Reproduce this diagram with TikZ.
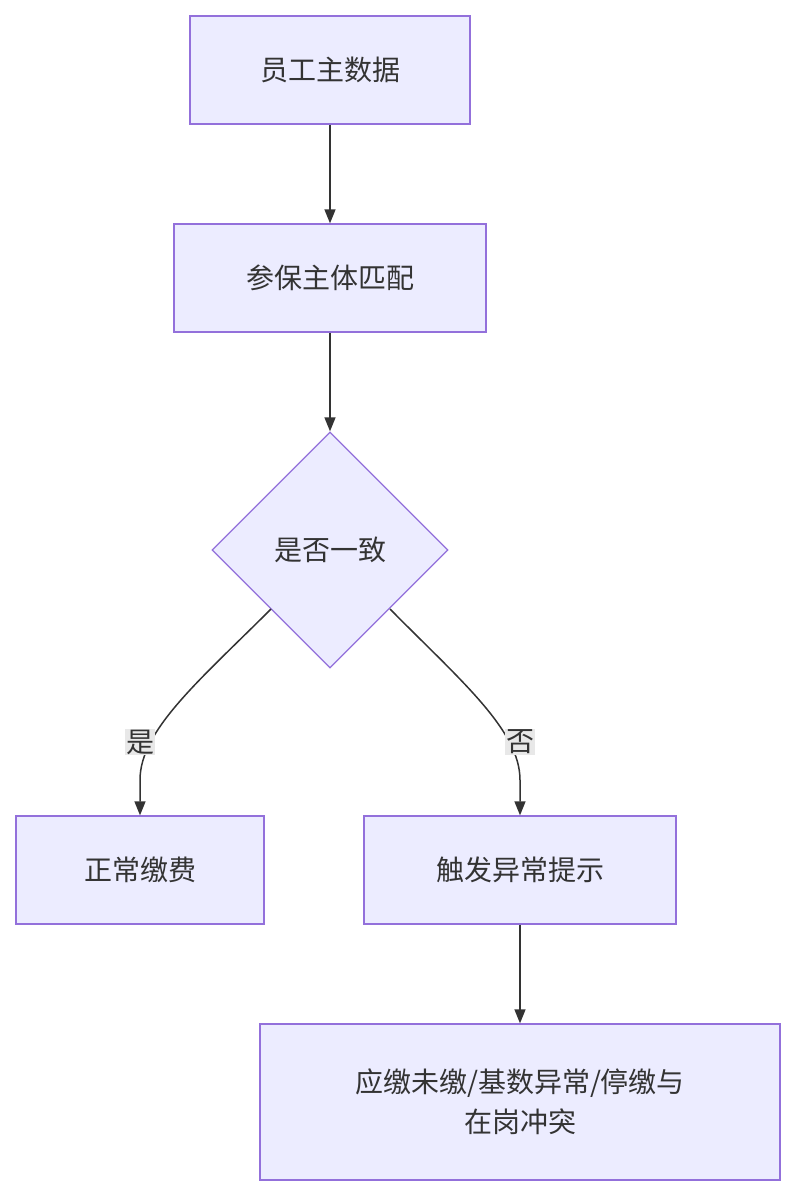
\documentclass[tikz,border=0pt]{standalone}
\usepackage{fontspec}
\setmainfont{Noto Sans CJK SC}
\usetikzlibrary{shapes.geometric,arrows.meta}
\definecolor{nfill}{HTML}{ECECFF}
\definecolor{nline}{HTML}{9370DB}
\definecolor{ntext}{HTML}{333333}
\definecolor{lbg}{HTML}{E8E8E8}
\begin{document}
\begin{tikzpicture}[x=1pt,y=-1pt,
  box/.style={draw=nline,fill=nfill,line width=1.3pt,text=ntext,font=\fontsize{28}{40}\selectfont,inner sep=0pt,align=center},
  edge/.style={draw=ntext,line width=1.5pt,-{Triangle[length=14pt,width=11pt]}},
  lbl/.style={fill=lbg,text=ntext,font=\fontsize{28}{34}\selectfont,inner sep=1pt}]
\useasboundingbox (0,0) rectangle (796,1196);
\node[box,minimum width=280pt,minimum height=108pt] (a) at (330,70) {员工主数据};
\node[box,minimum width=312pt,minimum height=108pt] (b) at (330,278) {参保主体匹配};
\node[box,diamond,minimum width=236pt,minimum height=236pt,aspect=1] (c) at (330,550) {是否一致};
\node[box,minimum width=248pt,minimum height=108pt] (d) at (140,870) {正常缴费};
\node[box,minimum width=312pt,minimum height=108pt] (e) at (520,870) {触发异常提示};
\node[box,minimum width=520pt,minimum height=156pt] (f) at (520,1102) {应缴未缴/基数异常/停缴与\\在岗冲突};
\coordinate (cl) at (271,609);
\coordinate (cr) at (390,609);
\draw[edge] (a) -- (b);
\draw[edge] (b) -- (c);
\draw[edge] (cl) .. controls (200,680) and (140,730) .. (140,780) -- (d.north);
\draw[edge] (cr) .. controls (460,680) and (520,730) .. (520,780) -- (e.north);
\draw[edge] (e) -- (f);
\node[lbl] (ly) at (140,742) {是};
\node[lbl] (ln) at (520,742) {否};
\end{tikzpicture}
\end{document}
